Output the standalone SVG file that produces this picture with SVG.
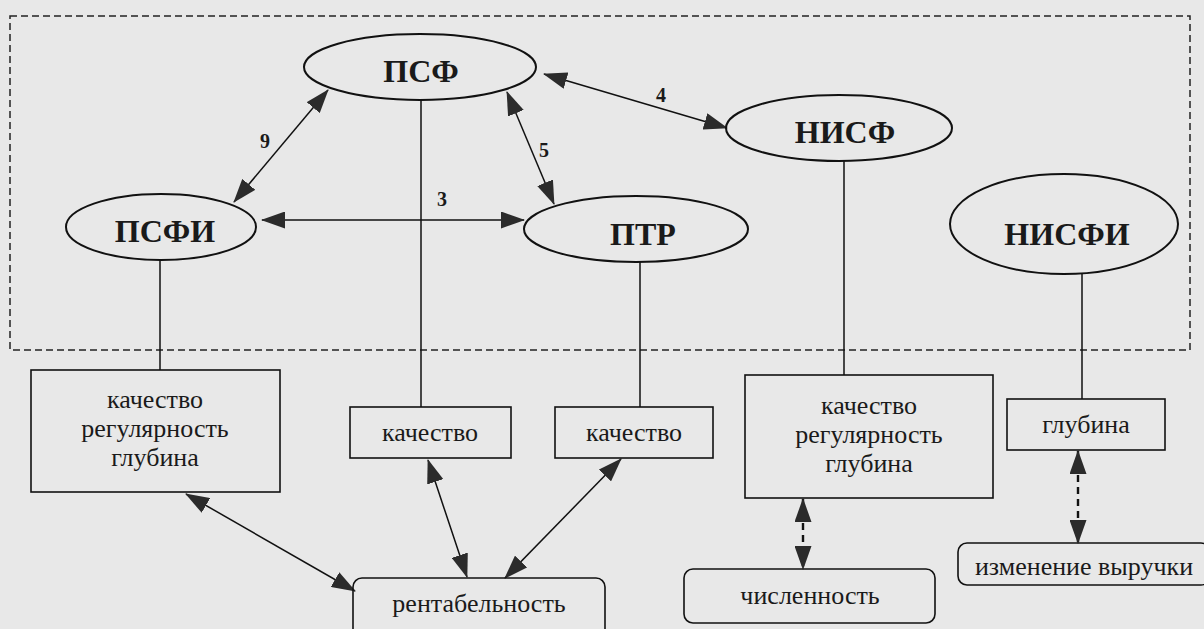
<svg xmlns="http://www.w3.org/2000/svg" width="1204" height="629" viewBox="0 0 1204 629">
<style>
.bg{fill:#e8e8e8}
.frame{fill:none;stroke:#222;stroke-width:1.5;stroke-dasharray:7,4}
.el{fill:none;stroke:#111;stroke-width:2}
.box{fill:none;stroke:#111;stroke-width:1.6}
.ln{fill:none;stroke:#111;stroke-width:1.5}
.dl{fill:none;stroke:#111;stroke-width:2.4;stroke-dasharray:7,5}
text{fill:#1a1a1a;text-anchor:middle}
</style>
<defs>
<marker id="ah" markerUnits="userSpaceOnUse" markerWidth="24" markerHeight="17" refX="23" refY="8.5" orient="auto-start-reverse" viewBox="0 0 24 17">
<path d="M0,0 L24,8.5 L0,17 z" fill="#2b2b2b" stroke="none"/>
</marker>
</defs>
<rect class="bg" x="0" y="0" width="1204" height="629"/>
<rect id="frame" class="frame" x="10" y="16" width="1180" height="334"/>

<g id="connectors">
<line class="ln" x1="421" y1="100" x2="421" y2="407"/>
<line class="ln" x1="160" y1="260" x2="160" y2="370"/>
<line class="ln" x1="640" y1="262" x2="640" y2="407"/>
<line class="ln" x1="844" y1="161" x2="844" y2="375"/>
<line class="ln" x1="1082" y1="274" x2="1082" y2="399"/>
<line class="ln" x1="328" y1="90" x2="234" y2="202" marker-start="url(#ah)" marker-end="url(#ah)"/>
<line class="ln" x1="507" y1="92" x2="554" y2="204" marker-start="url(#ah)" marker-end="url(#ah)"/>
<line class="ln" x1="262" y1="220" x2="524" y2="220" marker-start="url(#ah)" marker-end="url(#ah)"/>
<line class="ln" x1="544" y1="74" x2="727" y2="128" marker-start="url(#ah)" marker-end="url(#ah)"/>
<line class="ln" x1="186" y1="494" x2="355" y2="591" marker-start="url(#ah)" marker-end="url(#ah)"/>
<line class="ln" x1="428" y1="460" x2="467" y2="577" marker-start="url(#ah)" marker-end="url(#ah)"/>
<line class="ln" x1="621" y1="459" x2="505" y2="578" marker-start="url(#ah)" marker-end="url(#ah)"/>
<line class="dl" x1="803" y1="499" x2="803" y2="569" marker-start="url(#ah)" marker-end="url(#ah)"/>
<line class="dl" x1="1078" y1="451" x2="1078" y2="543" marker-start="url(#ah)" marker-end="url(#ah)"/>
<g font-family="'Liberation Serif', 'DejaVu Serif', serif" font-weight="bold" font-size="20">
<text x="265" y="148">9</text>
<text x="544" y="157">5</text>
<text x="442" y="206">3</text>
<text x="661" y="102">4</text>
</g>
</g>

<g font-family="'Liberation Serif', 'DejaVu Serif', serif" font-weight="bold" font-size="32">
<g id="psf">
<ellipse class="el" cx="420" cy="67" rx="116" ry="33"/>
<text x="421" y="82">ПСФ</text>
</g>
<g id="psfi">
<ellipse class="el" cx="161" cy="227" rx="95" ry="33"/>
<text x="165" y="242">ПСФИ</text>
</g>
<g id="ptr">
<ellipse class="el" cx="636" cy="229" rx="112" ry="33"/>
<text x="643" y="245">ПТР</text>
</g>
<g id="nisf">
<ellipse class="el" cx="839" cy="128" rx="113" ry="33"/>
<text x="845" y="143">НИСФ</text>
</g>
<g id="nisfi">
<ellipse class="el" cx="1064" cy="224" rx="114" ry="50"/>
<text x="1067" y="245">НИСФИ</text>
</g>
</g>

<g font-family="'Liberation Serif', 'DejaVu Serif', serif" font-size="26">
<g id="box-psfi">
<rect class="box" x="31" y="370" width="249" height="122"/>
<text x="155" y="408">качество</text>
<text x="155" y="437">регулярность</text>
<text x="155" y="466">глубина</text>
</g>
<g id="box-psf">
<rect class="box" x="350" y="407" width="161" height="51"/>
<text x="430" y="441">качество</text>
</g>
<g id="box-ptr">
<rect class="box" x="555" y="407" width="158" height="51"/>
<text x="634" y="441">качество</text>
</g>
<g id="box-nisf">
<rect class="box" x="745" y="375" width="248" height="123"/>
<text x="869" y="414">качество</text>
<text x="869" y="443">регулярность</text>
<text x="869" y="472">глубина</text>
</g>
<g id="box-nisfi">
<rect class="box" x="1007" y="399" width="158" height="51"/>
<text x="1086" y="433">глубина</text>
</g>
<g id="rent">
<rect class="box" x="353" y="578" width="252" height="62" rx="9"/>
<text x="479" y="612">рентабельность</text>
</g>
<g id="chisl">
<rect class="box" x="684" y="569" width="251" height="54" rx="9"/>
<text x="810" y="604">численность</text>
</g>
<g id="vyruchka">
<rect class="box" x="958" y="543" width="252" height="42" rx="9"/>
<text x="1084" y="575">изменение выручки</text>
</g>
</g>
</svg>
